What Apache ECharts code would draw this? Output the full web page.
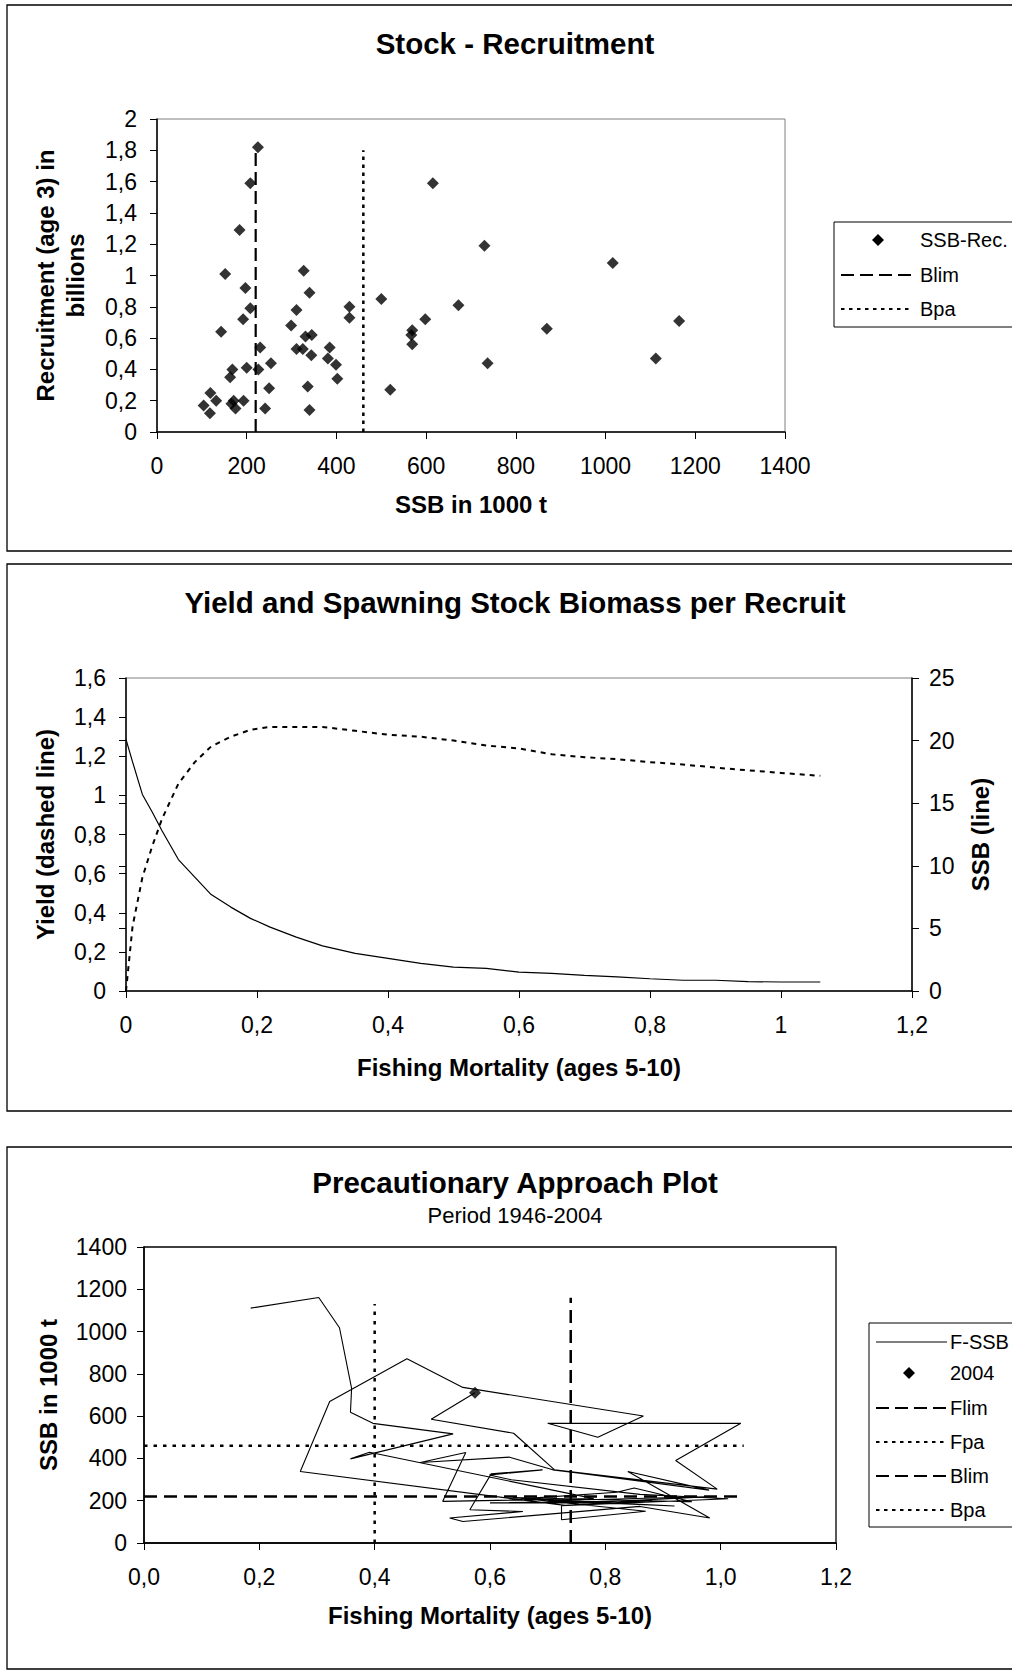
<!DOCTYPE html>
<html>
<head>
<meta charset="utf-8">
<title>Stock - Recruitment / Yield per Recruit / Precautionary Approach</title>
<script src="https://cdn.jsdelivr.net/npm/echarts/dist/echarts.min.js"></script>
<style>
  html, body { margin: 0; padding: 0; background: #fff; }
  #chart { width: 1012px; height: 1674px; }
</style>
</head>
<body>
<div id="chart"></div>
<script>
// ---- Stock - Recruitment ----
const srSSB = [225, 208, 615, 184, 730, 1016, 152, 327, 197, 340, 500, 429, 672, 208, 311, 192, 429, 598, 299, 143,
  569, 567, 869, 331, 345, 569, 230, 311, 325, 385, 344, 381, 399, 254, 737, 168, 200, 226, 163, 402,
  250, 336, 520, 119, 132, 171, 193, 104, 166, 175, 241, 340, 118, 1164, 1112];
const srRec = [1.82, 1.59, 1.59, 1.29, 1.19, 1.08, 1.01, 1.03, 0.92, 0.89, 0.85, 0.80, 0.81, 0.79, 0.78, 0.72, 0.73, 0.72, 0.68, 0.64,
  0.65, 0.62, 0.66, 0.61, 0.62, 0.56, 0.54, 0.53, 0.53, 0.54, 0.49, 0.47, 0.43, 0.44, 0.44, 0.40, 0.41, 0.40, 0.35, 0.34,
  0.28, 0.29, 0.27, 0.25, 0.20, 0.20, 0.20, 0.17, 0.18, 0.15, 0.15, 0.14, 0.12, 0.71, 0.47];
const srBlim = 220;
const srBpa = 460;
const srRefTop = 1.8;

// ---- Yield and SSB per recruit ----
const yprF = [0, 0.01, 0.025, 0.04, 0.055, 0.08, 0.105, 0.13, 0.16, 0.19, 0.22, 0.26, 0.30, 0.35,
  0.40, 0.45, 0.50, 0.55, 0.60, 0.65, 0.70, 0.75, 0.80, 0.85, 0.90, 0.95, 1.0, 1.06];
const yprYield = [0, 0.33, 0.58, 0.74, 0.88, 1.06, 1.17, 1.25, 1.30, 1.335, 1.35, 1.35, 1.35, 1.33,
  1.31, 1.30, 1.28, 1.255, 1.24, 1.21, 1.195, 1.185, 1.17, 1.158, 1.142, 1.128, 1.115, 1.10];
const yprSSB = [20.1, 18.3, 15.7, 14.3, 12.8, 10.5, 9.1, 7.7, 6.7, 5.8, 5.1, 4.3, 3.6, 3.0,
  2.6, 2.2, 1.9, 1.8, 1.5, 1.4, 1.25, 1.13, 0.98, 0.86, 0.86, 0.75, 0.72, 0.72];

// ---- Precautionary approach plot, 1946-2004 ----
const paF = [0.185, 0.303, 0.339, 0.360, 0.358, 0.397, 0.536, 0.358, 0.391, 0.780,
  0.518, 0.558, 0.479, 0.634, 0.709, 0.755, 0.980, 0.839, 0.981, 0.860,
  0.553, 0.530, 0.657, 0.565, 0.602, 0.691, 0.599, 0.637, 0.860, 1.013,
  0.724, 0.724, 0.870, 0.640, 0.950, 0.850, 0.820, 0.660, 0.920, 0.700,
  0.990, 0.760, 0.600, 0.880, 0.730, 0.271, 0.322, 0.456, 0.553, 0.866,
  0.787, 0.700, 1.035, 0.922, 0.994, 0.712, 0.641, 0.498, 0.574];
const paSSB = [1111, 1161, 1018, 731, 618, 566, 516, 398, 429, 210,
  197, 428, 381, 406, 346, 330, 250, 338, 118, 173,
  102, 118, 149, 157, 327, 346, 322, 299, 230, 209,
  176, 110, 150, 215, 195, 260, 240, 210, 175, 200,
  220, 190, 190, 200, 178, 338, 669, 871, 736, 601,
  500, 566, 566, 390, 255, 346, 519, 585, 711];
const paFlim = 0.74;
const paFpa = 0.40;
const paBlim = 220;
const paBpa = 460;
const paFlimTop = 1160;
const paFpaTop = 1130;
const paRefFEnd = 1.04;

const FONT = '"Liberation Sans", Arial, sans-serif';
const DASH = [13, 6];
const DOT = [3.5, 4.5];

const plain = v => String(v);
const comma = v => String(Math.round(v * 10) / 10).replace('.', ',');
const comma1 = v => v.toFixed(1).replace('.', ',');

// common value axis in the old spreadsheet look
const axis = o => ({
  type: 'value',
  gridIndex: o.grid,
  position: o.position,
  min: o.min,
  max: o.max,
  interval: o.interval,
  name: o.name,
  nameLocation: 'middle',
  nameGap: o.gap,
  nameMoveOverlap: false,
  nameTextStyle: { color: '#000', fontFamily: FONT, fontSize: 24, fontWeight: 'bold', lineHeight: 30 },
  splitLine: { show: false },
  axisLine: { show: true, onZero: false, lineStyle: { color: '#000', width: 1.5 } },
  axisTick: { show: true, length: 7, lineStyle: { color: '#000', width: 1 } },
  axisLabel: { color: '#000', fontFamily: FONT, fontSize: 23, margin: o.margin, formatter: o.fmt || plain,
    showMinLabel: true, showMaxLabel: true, hideOverlap: false }
});

const refLine = (name, xi, yi, data, type, width) => ({
  name, type: 'line', xAxisIndex: xi, yAxisIndex: yi, data,
  symbol: 'none', silent: true,
  lineStyle: { color: '#000', width, type }
});

// legend and title pieces (not data marks)
const txt = (x, y, text, size, bold, align) => ({
  type: 'text', x, y, silent: true,
  style: { text, fill: '#000', font: (bold ? 'bold ' : '') + size + 'px ' + FONT,
    textAlign: align || 'center', textVerticalAlign: 'middle' }
});
const seg = (x1, x2, y, dash, w) => ({
  type: 'line', silent: true, shape: { x1, y1: y, x2, y2: y },
  style: { stroke: '#000', lineWidth: w, lineDash: dash }
});
const dia = (cx, cy, r) => ({
  type: 'polygon', silent: true,
  shape: { points: [[cx, cy - r], [cx + r, cy], [cx, cy + r], [cx - r, cy]] },
  style: { fill: '#000' }
});
const box = (x, y, w, h, lw) => ({
  type: 'rect', silent: true, shape: { x, y, width: w, height: h },
  style: { fill: 'none', stroke: '#000', lineWidth: lw }
});

const chart = echarts.init(document.getElementById('chart'), null, { renderer: 'svg' });

const last = paF.length - 1;

const option = {
  animation: false,
  backgroundColor: '#fff',
  grid: [
    { left: 157, top: 119, width: 628, height: 313, show: true, borderColor: '#808080', borderWidth: 1, outerBoundsMode: 'none' },
    { left: 126, top: 678, width: 786, height: 313, show: true, borderColor: '#808080', borderWidth: 1, outerBoundsMode: 'none' },
    { left: 144, top: 1247, width: 692, height: 296, show: true, borderColor: '#000', borderWidth: 1.3, outerBoundsMode: 'none' }
  ],
  xAxis: [
    axis({ grid: 0, min: 0, max: 1400, interval: 200, name: 'SSB in 1000 t', gap: 57, margin: 22 }),
    axis({ grid: 1, min: 0, max: 1.2, interval: 0.2, name: 'Fishing Mortality (ages 5-10)', gap: 61, margin: 22, fmt: comma }),
    axis({ grid: 2, min: 0, max: 1.2, interval: 0.2, name: 'Fishing Mortality (ages 5-10)', gap: 57, margin: 22, fmt: comma1 })
  ],
  yAxis: [
    axis({ grid: 0, min: 0, max: 2, interval: 0.2, name: 'Recruitment (age 3) in\nbillions', gap: 67, margin: 20, fmt: comma }),
    axis({ grid: 1, min: 0, max: 1.6, interval: 0.2, name: 'Yield (dashed line)', gap: 66, margin: 20, fmt: comma }),
    axis({ grid: 1, position: 'right', min: 0, max: 25, interval: 5, name: 'SSB (line)', gap: 53, margin: 17 }),
    // inner half of the crossing ticks on the right axis
    Object.assign(axis({ grid: 1, position: 'right', min: 0, max: 25, interval: 5 }), {
      axisLine: { show: false },
      axisTick: { show: true, inside: true, length: 7, lineStyle: { color: '#000', width: 1 } },
      axisLabel: { show: false }
    }),
    axis({ grid: 2, min: 0, max: 1400, interval: 200, name: 'SSB in 1000 t', gap: 81, margin: 17 })
  ],
  series: [
    {
      name: 'SSB-Rec.', type: 'scatter', xAxisIndex: 0, yAxisIndex: 0,
      symbol: 'diamond', symbolSize: 12, silent: true,
      itemStyle: { color: '#000' },
      data: srSSB.map((s, i) => [s, srRec[i]])
    },
    refLine('Blim', 0, 0, [[srBlim, 0], [srBlim, srRefTop]], DASH, 2.2),
    refLine('Bpa', 0, 0, [[srBpa, 0], [srBpa, srRefTop]], DOT, 2.5),

    refLine('Yield', 1, 1, yprF.map((f, i) => [f, yprYield[i]]), [5, 5], 2),
    refLine('SSB', 1, 2, yprF.map((f, i) => [f, yprSSB[i]]), 'solid', 1.2),

    refLine('F-SSB', 2, 4, paF.map((f, i) => [f, paSSB[i]]), 'solid', 1.1),
    refLine('Flim', 2, 4, [[paFlim, 0], [paFlim, paFlimTop]], [13, 7], 2.5),
    refLine('Fpa', 2, 4, [[paFpa, 0], [paFpa, paFpaTop]], [3.5, 6], 2.5),
    refLine('Blim', 2, 4, [[0, paBlim], [paRefFEnd, paBlim]], [13, 7], 2.5),
    refLine('Bpa', 2, 4, [[0, paBpa], [paRefFEnd, paBpa]], [3.5, 6], 2.5),
    {
      name: '2004', type: 'scatter', xAxisIndex: 2, yAxisIndex: 4,
      symbol: 'diamond', symbolSize: 12, silent: true,
      itemStyle: { color: '#000' },
      data: [[paF[last], paSSB[last]]]
    }
  ],
  graphic: [
    // chart frames
    box(7, 5, 1100, 546, 1.3),
    box(7, 564, 1100, 547, 1.3),
    box(7, 1147, 1100, 522, 1.3),
    // titles
    txt(515, 43, 'Stock - Recruitment', 29.5, true),
    txt(515, 602, 'Yield and Spawning Stock Biomass per Recruit', 29.5, true),
    txt(515, 1182, 'Precautionary Approach Plot', 29.5, true),
    txt(515, 1215, 'Period 1946-2004', 22, false),
    // legend 1
    box(834, 222, 300, 105, 1),
    dia(878, 240, 6), txt(920, 240, 'SSB-Rec.', 20, false, 'left'),
    seg(841, 913, 275, DASH, 2), txt(920, 275, 'Blim', 20, false, 'left'),
    seg(841, 913, 309, DOT, 2), txt(920, 309, 'Bpa', 20, false, 'left'),
    // legend 3
    box(869, 1323, 300, 204, 1),
    seg(876, 947, 1342, null, 1), txt(950, 1342, 'F-SSB', 20, false, 'left'),
    dia(909, 1373, 6), txt(950, 1373, '2004', 20, false, 'left'),
    seg(876, 947, 1408, DASH, 2), txt(950, 1408, 'Flim', 20, false, 'left'),
    seg(876, 947, 1442, DOT, 2), txt(950, 1442, 'Fpa', 20, false, 'left'),
    seg(876, 947, 1476, DASH, 2), txt(950, 1476, 'Blim', 20, false, 'left'),
    seg(876, 947, 1510, DOT, 2), txt(950, 1510, 'Bpa', 20, false, 'left')
  ]
};

chart.setOption(option);
</script>
</body>
</html>
